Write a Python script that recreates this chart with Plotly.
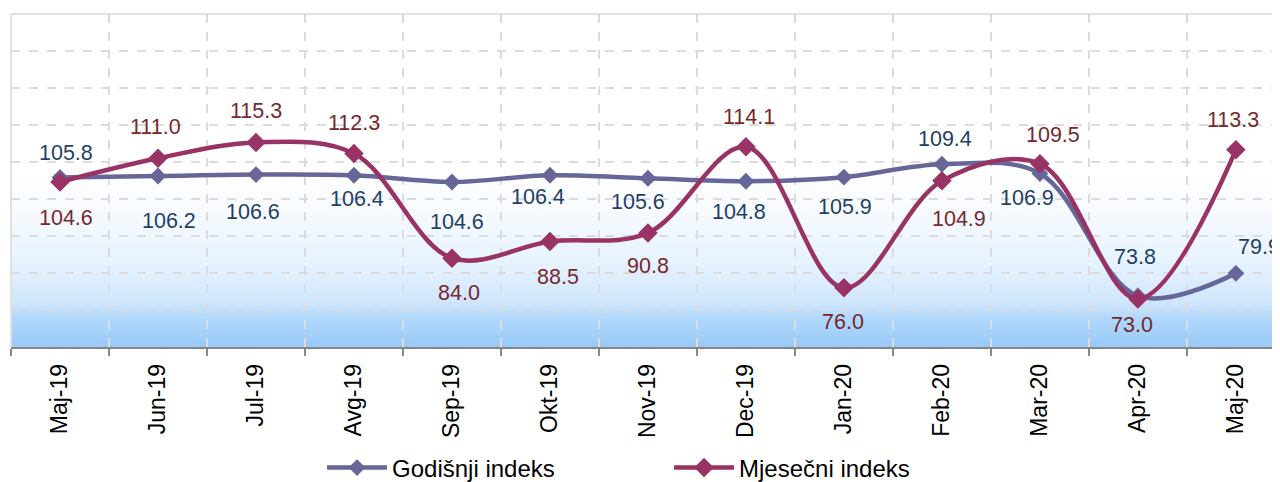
import plotly.graph_objects as go

categories = ["Maj-19", "Jun-19", "Jul-19", "Avg-19", "Sep-19", "Okt-19", "Nov-19",
              "Dec-19", "Jan-20", "Feb-20", "Mar-20", "Apr-20", "Maj-20"]
godisnji = [105.8, 106.2, 106.6, 106.4, 104.6, 106.4, 105.6, 104.8, 105.9, 109.4, 106.9, 73.8, 79.9]
mjesecni = [104.6, 111.0, 115.3, 112.3, 84.0, 88.5, 90.8, 114.1, 76.0, 104.9, 109.5, 73.0, 113.3]

# label pixel offsets (dx, dy) relative to each point (screen px, +dy = down)
god_off = [(6, -25), (11, 45), (-3, 37), (3, 24), (5, 40), (-12, 22), (-10, 24),
           (-7, 31), (1, 30), (3, -25), (-13, 25), (-3, -39), (23, -26)]
mje_off = [(6, 36), (-2, -31), (0, -31), (0, -30), (7, 35), (8, 35), (0, 33),
           (3, -30), (-1, 34), (17, 38), (13, -29), (-6, 26), (-3, -30)]

GOD_COLOR = "#666699"
MJE_COLOR = "#993366"
GOD_LBL = "#1f3f66"
MJE_LBL = "#76282c"
FONT = "Liberation Sans, Arial, sans-serif"

x = list(range(len(categories)))

fig = go.Figure()
fig.add_trace(go.Scatter(
    x=x, y=godisnji, name="Godišnji indeks", mode="lines+markers",
    line=dict(color=GOD_COLOR, width=4.5, shape="spline", smoothing=1),
    marker=dict(symbol="diamond", size=13, color=GOD_COLOR),
))
fig.add_trace(go.Scatter(
    x=x, y=mjesecni, name="Mjesečni indeks", mode="lines+markers",
    line=dict(color=MJE_COLOR, width=4.5, shape="spline", smoothing=1),
    marker=dict(symbol="diamond", size=15, color=MJE_COLOR),
))

annotations = []
for i, v in enumerate(godisnji):
    dx, dy = god_off[i]
    annotations.append(dict(x=i, y=v, text=f"{v:.1f}", showarrow=False,
                            xshift=dx, yshift=-dy, xanchor="center", yanchor="middle",
                            font=dict(family=FONT, size=21.5, color=GOD_LBL)))
for i, v in enumerate(mjesecni):
    dx, dy = mje_off[i]
    annotations.append(dict(x=i, y=v, text=f"{v:.1f}", showarrow=False,
                            xshift=dx, yshift=-dy, xanchor="center", yanchor="middle",
                            font=dict(family=FONT, size=21.5, color=MJE_LBL)))

# background gradient (white top -> light blue bottom), drawn as stacked bands
def lerp(c1, c2, t):
    return tuple(round(a + (b - a) * t) for a, b in zip(c1, c2))

stops = [(60.0, (153, 202, 248)), (68.0, (178, 216, 251)), (72.0, (207, 230, 252)),
         (82.0, (229, 242, 254)), (96.0, (246, 250, 255)), (108.0, (255, 255, 255))]

def grad_color(v):
    for (v0, c0), (v1, c1) in zip(stops[:-1], stops[1:]):
        if v0 <= v <= v1:
            return lerp(c0, c1, (v - v0) / (v1 - v0))
    return (255, 255, 255)

shapes = []
step = 0.3
v = 60.0
while v < 108.0:
    c = grad_color(v + step / 2)
    shapes.append(dict(type="rect", xref="x domain", yref="y", x0=0, x1=1,
                       y0=v, y1=150, fillcolor=f"rgb{c}",
                       line=dict(width=0), layer="below"))
    v += step
# plot-area top and left borders
shapes.append(dict(type="line", xref="x domain", yref="y domain", x0=0, x1=1, y0=1, y1=1,
                   line=dict(color="#e2e2e2", width=2), layer="below"))
shapes.append(dict(type="line", xref="x domain", yref="y domain", x0=0, x1=0, y0=0, y1=1,
                   line=dict(color="#e2e2e2", width=2), layer="below"))

# page body has an 8px default margin, so the figure is sized 8px smaller
fig.update_layout(
    width=1272, height=474,
    margin=dict(l=3, r=0, t=6, b=135, autoexpand=False),
    paper_bgcolor="white", plot_bgcolor="white",
    font=dict(family=FONT, color="black"),
    showlegend=True,
    legend=dict(orientation="h", x=0.2451, xanchor="left", y=-0.3634, yanchor="middle",
                font=dict(family=FONT, size=24, color="black"),
                itemwidth=60,
                entrywidth=272, entrywidthmode="pixels", bgcolor="rgba(0,0,0,0)"),
    annotations=annotations,
    shapes=shapes,
)
fig.update_xaxes(
    range=[-0.5, 12.45], tickmode="array", tickvals=x, ticktext=categories,
    tickangle=-90, tickfont=dict(family=FONT, size=23, color="black"),
    ticks="", ticklabelstandoff=6, showgrid=False, zeroline=False,
    showline=True, linecolor="#868686", linewidth=1.5,
    minor=dict(tick0=-0.5, dtick=1, ticks="outside", ticklen=7, tickcolor="#868686",
               tickwidth=1.5, showgrid=True, gridcolor="#dcdcdc", griddash="dash", gridwidth=1.5),
)
fig.update_yaxes(
    range=[60, 150], dtick=10, showticklabels=False, ticks="",
    showgrid=True, gridcolor="#dcdcdc", griddash="dash", gridwidth=1.5,
    zeroline=False, showline=False,
)

fig.write_html("out.html")
